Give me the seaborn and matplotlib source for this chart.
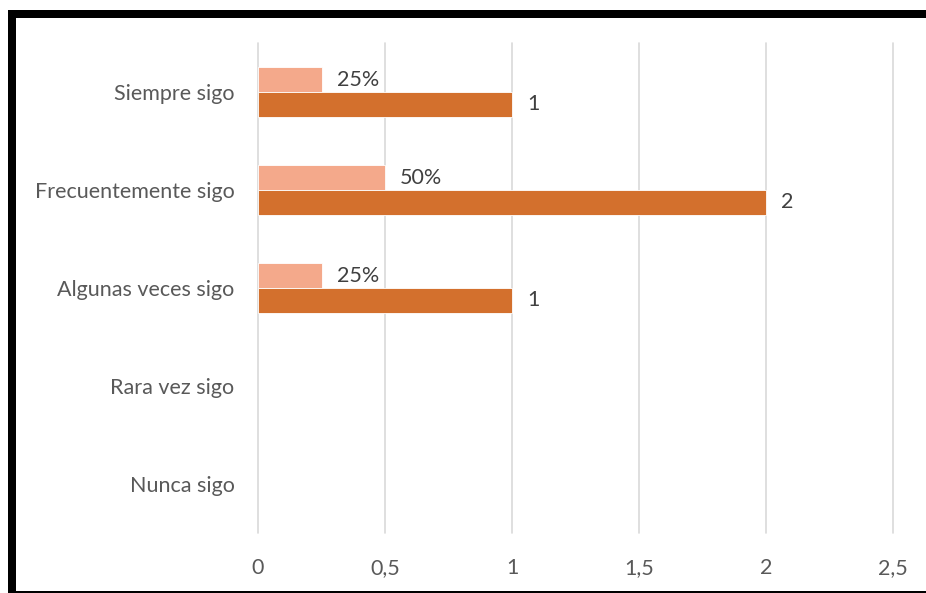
import matplotlib
matplotlib.use("Agg")
import matplotlib.pyplot as plt
import seaborn as sns
import pandas as pd
from matplotlib.patches import Rectangle

# Categories, top to bottom
categorias = ["Siempre sigo", "Frecuentemente sigo", "Algunas veces sigo", "Rara vez sigo", "Nunca sigo"]
porcentaje = [0.25, 0.50, 0.25, 0.0, 0.0]
frecuencia = [1, 2, 1, 0, 0]
series = ["Porcentaje", "Frecuencia"]
xticks = [0, 0.5, 1, 1.5, 2, 2.5]
xtick_labels = ["0", "0,5", "1", "1,5", "2", "2,5"]

df = pd.DataFrame({
    "categoria": categorias * 2,
    "serie": [series[0]] * len(categorias) + [series[1]] * len(categorias),
    "valor": porcentaje + frecuencia,
})

sns.set_theme(style="white")
plt.rcParams["font.family"] = ["Lato", "DejaVu Sans"]
FS = 15.5

fig = plt.figure(figsize=(9.26, 5.93), dpi=100)
ax = fig.add_axes([258 / 926, 1 - 533 / 593, (893 - 258) / 926, (533 - 43) / 593])

palette = {"Porcentaje": "#F4A98B", "Frecuencia": "#D3702D"}
sns.barplot(data=df, y="categoria", x="valor", hue="serie", hue_order=series,
            order=categorias, orient="h", palette=palette, width=0.51,
            saturation=1, edgecolor="white", linewidth=0.6, ax=ax, legend=False)

# zero-length bars get no outline
for bar in ax.patches:
    if bar.get_width() == 0:
        bar.set_linewidth(0)

ax.set_xlim(0, 2.5)
ax.set_ylim(4.5, -0.5)
ax.set_xticks(xticks)
ax.set_xticklabels(xtick_labels)
ax.set_xlabel("")
ax.set_ylabel("")
ax.grid(axis="x", color="#d9d9d9", linewidth=1.2)
ax.grid(axis="y", visible=False)
for gl in ax.get_xgridlines():
    gl.set_clip_on(False)
ax.set_axisbelow(True)
for s in ax.spines.values():
    s.set_visible(False)
ax.tick_params(axis="x", length=0, pad=18, labelsize=FS, labelcolor="#595959")
ax.tick_params(axis="y", length=0, pad=17, labelsize=FS, labelcolor="#595959")

# Value labels next to each bar
for container, valores, fmt in zip(ax.containers, [porcentaje, frecuencia],
                                   [lambda v: f"{v:.0%}", lambda v: f"{v:g}"]):
    for bar, v in zip(container, valores):
        if v == 0:
            continue
        y = bar.get_y() + bar.get_height() / 2
        ax.annotate(fmt(v), xy=(bar.get_width(), y), xytext=(11, 0),
                    textcoords="offset points", va="center", ha="left",
                    fontsize=FS, color="#404040")

# Black frame around the chart
k = "black"
fig.add_artist(Rectangle((8 / 926, 1 - 18 / 593), 1.0, 8 / 593,
                         transform=fig.transFigure, color=k, lw=0))
fig.add_artist(Rectangle((8 / 926, 0), 8 / 926, 1 - 10 / 593,
                         transform=fig.transFigure, color=k, lw=0))
fig.add_artist(Rectangle((8 / 926, 0), 1.0, 2 / 593,
                         transform=fig.transFigure, color=k, lw=0))

fig.savefig("out.png", dpi=100, facecolor="white")
